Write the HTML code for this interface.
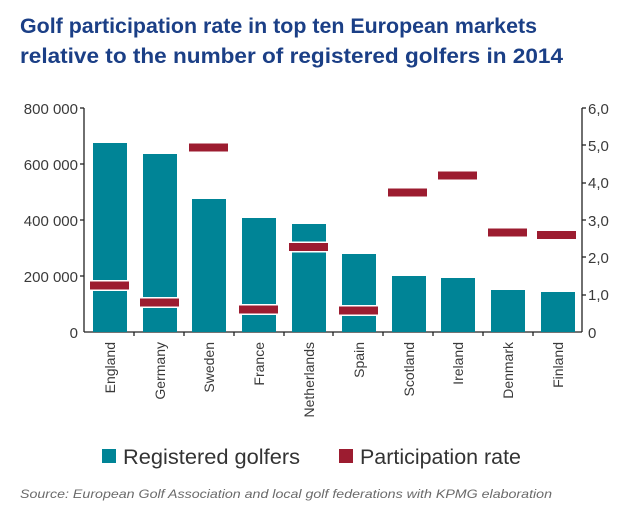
<!DOCTYPE html>
<html><head><meta charset="utf-8"><style>
body{margin:0;background:#fff;width:631px;height:522px;overflow:hidden;font-family:"Liberation Sans",Arial,sans-serif}
</style></head><body>
<svg width="631" height="522" xmlns="http://www.w3.org/2000/svg" font-family="Liberation Sans, Arial, sans-serif">
<text x="20" y="33" font-size="21" font-weight="bold" fill="#1b3f86" textLength="517" lengthAdjust="spacingAndGlyphs">Golf participation rate in top ten European markets</text>
<text x="20" y="63" font-size="21" font-weight="bold" fill="#1b3f86" textLength="543" lengthAdjust="spacingAndGlyphs">relative to the number of registered golfers in 2014</text>
<g fill="#3a3a3a" font-size="15" text-anchor="end">
<text x="78" y="114">800 000</text><text x="78" y="170">600 000</text><text x="78" y="226">400 000</text><text x="78" y="282">200 000</text><text x="78" y="338">0</text>
</g>
<g fill="#3a3a3a" font-size="15">
<text x="588" y="114">6,0</text><text x="588" y="151">5,0</text><text x="588" y="188">4,0</text><text x="588" y="226">3,0</text><text x="588" y="263">2,0</text><text x="588" y="300">1,0</text><text x="588" y="338">0</text>
</g>
<g stroke="#222" stroke-width="1.3">
<line x1="84" y1="108" x2="84" y2="332"/><line x1="582" y1="108" x2="582" y2="332"/>
<line x1="84" y1="332" x2="582" y2="332"/>
<line x1="80" y1="108" x2="84" y2="108"/><line x1="80" y1="164" x2="84" y2="164"/><line x1="80" y1="220" x2="84" y2="220"/><line x1="80" y1="276" x2="84" y2="276"/>
<line x1="582" y1="108" x2="586" y2="108"/><line x1="582" y1="145" x2="586" y2="145"/><line x1="582" y1="183" x2="586" y2="183"/><line x1="582" y1="220" x2="586" y2="220"/><line x1="582" y1="257" x2="586" y2="257"/><line x1="582" y1="295" x2="586" y2="295"/>
<line x1="134" y1="332" x2="134" y2="336"/><line x1="184" y1="332" x2="184" y2="336"/><line x1="234" y1="332" x2="234" y2="336"/><line x1="284" y1="332" x2="284" y2="336"/><line x1="333" y1="332" x2="333" y2="336"/><line x1="383" y1="332" x2="383" y2="336"/><line x1="433" y1="332" x2="433" y2="336"/><line x1="483" y1="332" x2="483" y2="336"/><line x1="533" y1="332" x2="533" y2="336"/>
</g>
<g fill="#008496">
<rect x="93" y="143" width="34" height="189"/><rect x="143" y="154" width="34" height="178"/><rect x="192" y="199" width="34" height="133"/><rect x="242" y="218" width="34" height="114"/><rect x="292" y="224" width="34" height="108"/><rect x="342" y="254" width="34" height="78"/><rect x="392" y="276" width="34" height="56"/><rect x="441" y="278" width="34" height="54"/><rect x="491" y="290" width="34" height="42"/><rect x="541" y="292" width="34" height="40"/>
</g>
<g fill="#fff">
<rect x="89" y="280" width="41" height="11"/><rect x="139" y="297" width="41" height="11"/><rect x="238" y="304" width="41" height="11"/><rect x="288" y="241.5" width="41" height="11"/><rect x="338" y="305" width="41" height="11"/>
</g>
<g fill="#9c1c30">
<rect x="90" y="281.5" width="39" height="8"/><rect x="140" y="298.5" width="39" height="8"/><rect x="189" y="143.5" width="39" height="8"/><rect x="239" y="305.5" width="39" height="8"/><rect x="289" y="243" width="39" height="8"/><rect x="339" y="306.5" width="39" height="8"/><rect x="388" y="188.5" width="39" height="8"/><rect x="438" y="171.5" width="39" height="8"/><rect x="488" y="228.5" width="39" height="8"/><rect x="537" y="231" width="39" height="8"/>
</g>
<g fill="#3a3a3a" font-size="14" text-anchor="end">
<text transform="translate(115,342) rotate(-90)">England</text>
<text transform="translate(165,342) rotate(-90)">Germany</text>
<text transform="translate(214,342) rotate(-90)">Sweden</text>
<text transform="translate(264,342) rotate(-90)">France</text>
<text transform="translate(314,342) rotate(-90)">Netherlands</text>
<text transform="translate(364,342) rotate(-90)">Spain</text>
<text transform="translate(414,342) rotate(-90)">Scotland</text>
<text transform="translate(463,342) rotate(-90)">Ireland</text>
<text transform="translate(513,342) rotate(-90)">Denmark</text>
<text transform="translate(563,342) rotate(-90)">Finland</text>
</g>
<rect x="102" y="449" width="14" height="14" fill="#008496"/>
<text x="123" y="464" font-size="21" fill="#333" textLength="177" lengthAdjust="spacingAndGlyphs">Registered golfers</text>
<rect x="339" y="449" width="14" height="14" fill="#9c1c30"/>
<text x="360" y="464" font-size="21" fill="#333" textLength="161" lengthAdjust="spacingAndGlyphs">Participation rate</text>
<text x="20" y="498" font-size="12" font-style="italic" fill="#6a6a6a" textLength="532" lengthAdjust="spacingAndGlyphs">Source: European Golf Association and local golf federations with KPMG elaboration</text>
</svg>
</body></html>
